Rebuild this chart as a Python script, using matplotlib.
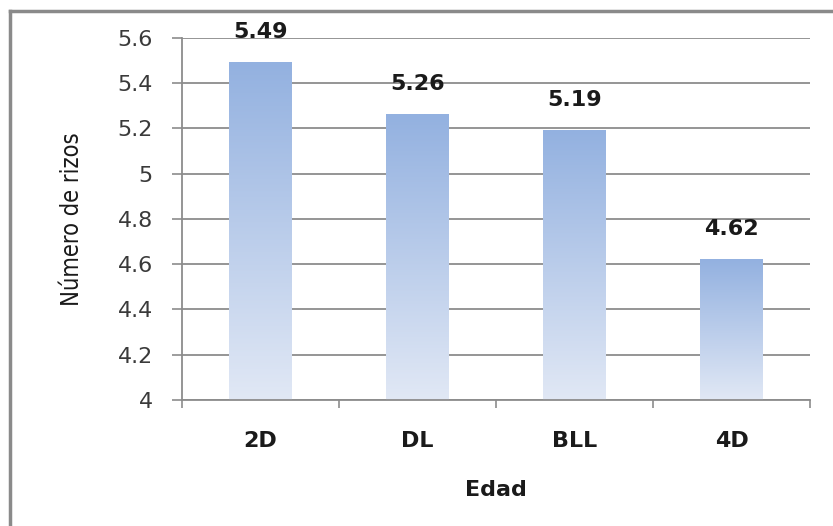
import numpy as np
import matplotlib
matplotlib.use("Agg")
import matplotlib.pyplot as plt
from matplotlib.colors import LinearSegmentedColormap
from matplotlib.lines import Line2D

categorias = ["2D", "DL", "BLL", "4D"]
valores = [5.49, 5.26, 5.19, 4.62]
yticks = [4, 4.2, 4.4, 4.6, 4.8, 5, 5.2, 5.4, 5.6]

fig = plt.figure(figsize=(8.33, 5.26), dpi=100)
ax = fig.add_axes([182/833, 1-400/526, 628/833, 362/526])

cmap = LinearSegmentedColormap.from_list("grad", ["#e1e8f5", "#93b1e0"])
grad = np.linspace(0, 1, 256).reshape(-1, 1)
ancho = 0.4
x = np.arange(len(categorias))
for xi, v in zip(x, valores):
    ax.imshow(grad, extent=(xi - ancho/2, xi + ancho/2, 4, v), origin="lower",
              aspect="auto", cmap=cmap, zorder=2)
    ax.annotate(f"{v:.2f}", (xi, v), xytext=(0, 15), textcoords="offset points",
                ha="center", va="bottom", fontsize=16, fontweight="bold",
                color="#1a1a1a")

ax.set_xlim(-0.5, len(categorias) - 0.5)
ax.set_ylim(4, 5.6)
ax.set_yticks(yticks)
ax.set_yticklabels([f"{t:g}" for t in yticks], fontsize=16, color="#3a3a3a")
ax.yaxis.grid(True, color="#8c8c8c", linewidth=1.3, zorder=0)
ax.set_axisbelow(True)
ax.tick_params(axis="y", length=7, width=1.2, color="#8c8c8c", pad=14)

ax.set_xticks(x)
ax.set_xticklabels(categorias, fontsize=16, fontweight="bold", color="#1a1a1a")
ax.set_xticks(np.arange(-0.5, len(categorias)), minor=True)
ax.tick_params(axis="x", which="major", length=0, pad=22)
ax.tick_params(axis="x", which="minor", length=6, width=1.2, color="#8c8c8c")

for s in ["top", "right"]:
    ax.spines[s].set_visible(False)
for s in ["left", "bottom"]:
    ax.spines[s].set_color("#8c8c8c")
    ax.spines[s].set_linewidth(1.3)

ax.set_xlabel("Edad", fontsize=16, fontweight="bold", labelpad=21, color="#1a1a1a")
ax.set_ylabel("Número de rizos", fontsize=17, fontstretch="condensed",
              labelpad=24, color="#1a1a1a")

# marco exterior (solo arriba e izquierda visibles)
fig.add_artist(Line2D([10/833, 1], [1-11/526, 1-11/526], color="#8a8a8a", linewidth=2.5))
fig.add_artist(Line2D([10/833, 10/833], [0, 1-11/526], color="#8a8a8a", linewidth=2.5))

fig.savefig("out.png", dpi=100)
